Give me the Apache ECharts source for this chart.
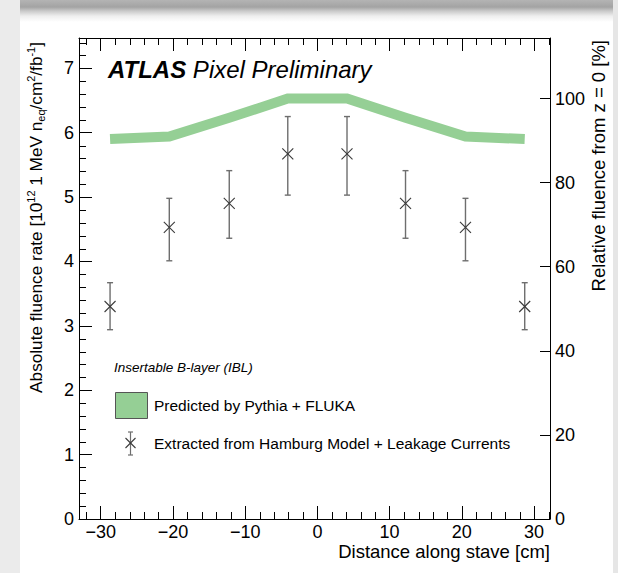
<!DOCTYPE html>
<html>
<head>
<meta charset="utf-8">
<script src="https://cdn.jsdelivr.net/npm/echarts@6/dist/echarts.min.js"></script>
<style>
  html, body { margin: 0; padding: 0; width: 618px; height: 573px; overflow: hidden; background: #ffffff; }
  #leftStrip { position: absolute; left: 0; top: 0; width: 20px; height: 573px; background: #ebebeb; }
  #rightStrip { position: absolute; left: 613px; top: 0; width: 5px; height: 573px; background: #e6e6e6; }
  #topBar { position: absolute; left: 20px; top: 0; width: 593px; height: 22px;
    background: linear-gradient(to bottom, #b4b4b4 0px, #a3a3a3 7px, #c9c9c9 11px, #eeeeee 16px, #ffffff 22px); }
  #chart { position: absolute; left: 0; top: 0; width: 618px; height: 573px; }
</style>
</head>
<body>
<div id="leftStrip"></div>
<div id="rightStrip"></div>
<div id="topBar"></div>
<div id="chart"></div>
<script>
// ---- data ----
const positions   = [-28.7, -20.5, -12.2, -4.1, 4.1, 12.2, 20.5, 28.7];   // cm along stave
const predicted   = [5.90, 5.94, 6.23, 6.53, 6.53, 6.23, 5.94, 5.90];     // Pythia + FLUKA band centre
const extracted   = [3.30, 4.53, 4.90, 5.67, 5.67, 4.90, 4.53, 3.30];     // Hamburg model + leakage currents
const extractedLo = [2.94, 4.01, 4.36, 5.03, 5.03, 4.36, 4.01, 2.94];
const extractedHi = [3.67, 4.98, 5.41, 6.25, 6.25, 5.41, 4.98, 3.67];

// ---- axis ticks ----
const xMajorTicks = [-30, -20, -10, 0, 10, 20, 30];
const xMinorTicks = [-32, -28, -26, -24, -22, -18, -16, -14, -12, -8, -6, -4, -2, 2, 4, 6, 8, 12, 14, 16, 18, 22, 24, 26, 28, 32];
const yMajorTicks = [0, 1, 2, 3, 4, 5, 6, 7];
const yMinorTicks = [0.2,0.4,0.6,0.8,1.2,1.4,1.6,1.8,2.2,2.4,2.6,2.8,3.2,3.4,3.6,3.8,4.2,4.4,4.6,4.8,5.2,5.4,5.6,5.8,6.2,6.4,6.6,6.8,7.2,7.4];
const rightTicks  = [0, 20, 40, 60, 80, 100];

const X_MIN = -33, X_MAX = 32.2;
const Y_MAX = 7.47;
const REF_100 = 6.53;                 // absolute rate that corresponds to 100 %
const R_MAX = Y_MAX / REF_100 * 100;

const FONT = '"Liberation Sans", Arial, Helvetica, sans-serif';
const minusFmt = v => String(v).replace('-', '\u2212');

const chart = echarts.init(document.getElementById('chart'), null, { renderer: 'svg' });

function xAxisDef(pos, ticks, len, showLabel) {
  return {
    type: 'value', position: pos, min: X_MIN, max: X_MAX, gridIndex: 0,
    axisLine: { show: true, onZero: false, lineStyle: { color: '#000', width: 1 } },
    axisTick: { show: true, inside: true, length: len, customValues: ticks, lineStyle: { color: '#000', width: 1 } },
    axisLabel: { show: showLabel, customValues: ticks, formatter: minusFmt, color: '#000', fontSize: 18, fontFamily: FONT, margin: 4 },
    splitLine: { show: false }, minorTick: { show: false }
  };
}
function yAxisDef(pos, min, max, ticks, len, showLabel) {
  return {
    type: 'value', position: pos, min: min, max: max, gridIndex: 0,
    axisLine: { show: true, onZero: false, lineStyle: { color: '#000', width: 1 } },
    axisTick: { show: true, inside: true, length: len, customValues: ticks, lineStyle: { color: '#000', width: 1 } },
    axisLabel: { show: showLabel, customValues: ticks, color: '#000', fontSize: 18, fontFamily: FONT, margin: 5 },
    splitLine: { show: false }, minorTick: { show: false }
  };
}

const px = v => Math.round(v) + 0.5;
const tickStyle = { stroke: '#000', lineWidth: 1 };

const option = {
  backgroundColor: 'transparent',
  animation: false,
  grid: { left: 79, right: 68, top: 38, bottom: 54, containLabel: false, outerBoundsMode: 'none' },
  xAxis: [
    xAxisDef('bottom', xMajorTicks, 13, true),
    xAxisDef('top', xMajorTicks, 13, false)
  ],
  yAxis: [
    yAxisDef('left', 0, Y_MAX, yMajorTicks, 13, true),
    yAxisDef('right', 0, R_MAX, rightTicks, 10, true)
  ],
  series: [
    {
      name: 'xMinor', type: 'custom', xAxisIndex: 0, yAxisIndex: 0, silent: true, clip: false,
      data: xMinorTicks.map(v => [v, 0]),
      encode: { x: 0, y: 1 },
      renderItem: function (params, api) {
        const c = api.coord([api.value(0), 0]);
        const cs = params.coordSys;
        const x = px(c[0]), yb = cs.y + cs.height, yt = cs.y;
        return { type: 'group', children: [
          { type: 'line', shape: { x1: x, y1: yb, x2: x, y2: yb - 7 }, style: tickStyle },
          { type: 'line', shape: { x1: x, y1: yt, x2: x, y2: yt + 7 }, style: tickStyle }
        ] };
      },
      z: 4
    },
    {
      name: 'yMinor', type: 'custom', xAxisIndex: 0, yAxisIndex: 0, silent: true, clip: false,
      data: yMinorTicks.map(v => [X_MIN, v]),
      encode: { x: 0, y: 1 },
      renderItem: function (params, api) {
        const c = api.coord([X_MIN, api.value(1)]);
        const cs = params.coordSys;
        const y = px(c[1]), xl = cs.x;
        return { type: 'line', shape: { x1: xl, y1: y, x2: xl + 7, y2: y }, style: tickStyle };
      },
      z: 4
    },
    {
      name: 'Predicted by Pythia + FLUKA',
      type: 'line', xAxisIndex: 0, yAxisIndex: 0,
      data: positions.map((x, i) => [x, predicted[i]]),
      showSymbol: false, symbol: 'none',
      lineStyle: { color: '#95cf95', width: 10, cap: 'butt', join: 'miter' },
      z: 2
    },
    {
      name: 'Extracted from Hamburg Model + Leakage Currents',
      type: 'custom', xAxisIndex: 0, yAxisIndex: 0,
      data: positions.map((x, i) => [x, extracted[i], extractedLo[i], extractedHi[i]]),
      encode: { x: 0, y: [1, 2, 3] },
      renderItem: function (params, api) {
        const p = api.coord([api.value(0), api.value(1)]);
        const lo = api.coord([api.value(0), api.value(2)]);
        const hi = api.coord([api.value(0), api.value(3)]);
        const cap = 3, m = 5.5;
        const es = { stroke: '#6e6e6e', lineWidth: 1.4 };
        const ms = { stroke: '#3a3a3a', lineWidth: 1.1 };
        return {
          type: 'group',
          children: [
            { type: 'line', shape: { x1: p[0], y1: lo[1], x2: p[0], y2: hi[1] }, style: es },
            { type: 'line', shape: { x1: p[0] - cap, y1: lo[1], x2: p[0] + cap, y2: lo[1] }, style: es },
            { type: 'line', shape: { x1: p[0] - cap, y1: hi[1], x2: p[0] + cap, y2: hi[1] }, style: es },
            { type: 'line', shape: { x1: p[0] - m, y1: p[1] - m, x2: p[0] + m, y2: p[1] + m }, style: ms },
            { type: 'line', shape: { x1: p[0] - m, y1: p[1] + m, x2: p[0] + m, y2: p[1] - m }, style: ms }
          ]
        };
      },
      z: 3
    }
  ],
  graphic: [
    { type: 'text', x: 108, y: 69, z: 10,
      style: { text: '{a|ATLAS}{b| Pixel Preliminary}', fill: '#000', verticalAlign: 'middle',
        rich: { a: { fontFamily: FONT, fontSize: 24, fontWeight: 'bold', fontStyle: 'italic', fill: '#000' },
                b: { fontFamily: FONT, fontSize: 24, fontStyle: 'italic', fill: '#000' } } } },
    { type: 'text', x: 114, y: 367, z: 10,
      style: { text: 'Insertable B-layer (IBL)', fontFamily: FONT, fontSize: 13.5, fontStyle: 'italic', fill: '#000', verticalAlign: 'middle' } },
    { type: 'rect', shape: { x: 115.5, y: 392.5, width: 32, height: 26 }, z: 10,
      style: { fill: '#95cf95', stroke: '#555', lineWidth: 1 } },
    { type: 'text', x: 154, y: 405, z: 10,
      style: { text: 'Predicted by Pythia + FLUKA', fontFamily: FONT, fontSize: 15.5, fill: '#000', verticalAlign: 'middle' } },
    { type: 'group', z: 10, children: [
      { type: 'line', shape: { x1: 130.5, y1: 432, x2: 130.5, y2: 455 }, style: { stroke: '#6e6e6e', lineWidth: 1.2 } },
      { type: 'line', shape: { x1: 128, y1: 432, x2: 133, y2: 432 }, style: { stroke: '#6e6e6e', lineWidth: 1.2 } },
      { type: 'line', shape: { x1: 128, y1: 455, x2: 133, y2: 455 }, style: { stroke: '#6e6e6e', lineWidth: 1.2 } },
      { type: 'line', shape: { x1: 125.5, y1: 438, x2: 135.5, y2: 448 }, style: { stroke: '#3a3a3a', lineWidth: 1.1 } },
      { type: 'line', shape: { x1: 125.5, y1: 448, x2: 135.5, y2: 438 }, style: { stroke: '#3a3a3a', lineWidth: 1.1 } }
    ] },
    { type: 'text', x: 154, y: 443, z: 10,
      style: { text: 'Extracted from Hamburg Model + Leakage Currents', fontFamily: FONT, fontSize: 15.5, fill: '#000', verticalAlign: 'middle' } },
    { type: 'text', x: 550, y: 551, z: 10,
      style: { text: 'Distance along stave [cm]', fontFamily: FONT, fontSize: 18.5, fill: '#000', align: 'right', verticalAlign: 'middle' } },
    { type: 'text', x: 36, y: 42, rotation: Math.PI / 2, z: 10,
      style: { text: 'Absolute fluence rate [10{sup|12} 1 MeV n{sub|eq}/cm{sup|2}/fb{sup|-1}]',
        fontFamily: FONT, fontSize: 17.2, fill: '#000', align: 'right', verticalAlign: 'middle',
        rich: {
          sup: { fontFamily: FONT, fontSize: 11, fill: '#000', verticalAlign: 'top', lineHeight: 21 },
          sub: { fontFamily: FONT, fontSize: 11, fill: '#000', verticalAlign: 'bottom', lineHeight: 21 }
        } } },
    { type: 'text', x: 598, y: 40, rotation: Math.PI / 2, z: 10,
      style: { text: 'Relative fluence from z = 0 [%]', fontFamily: FONT, fontSize: 18.5, fill: '#000', align: 'right', verticalAlign: 'middle' } }
  ]
};
chart.setOption(option);
</script>
</body>
</html>
